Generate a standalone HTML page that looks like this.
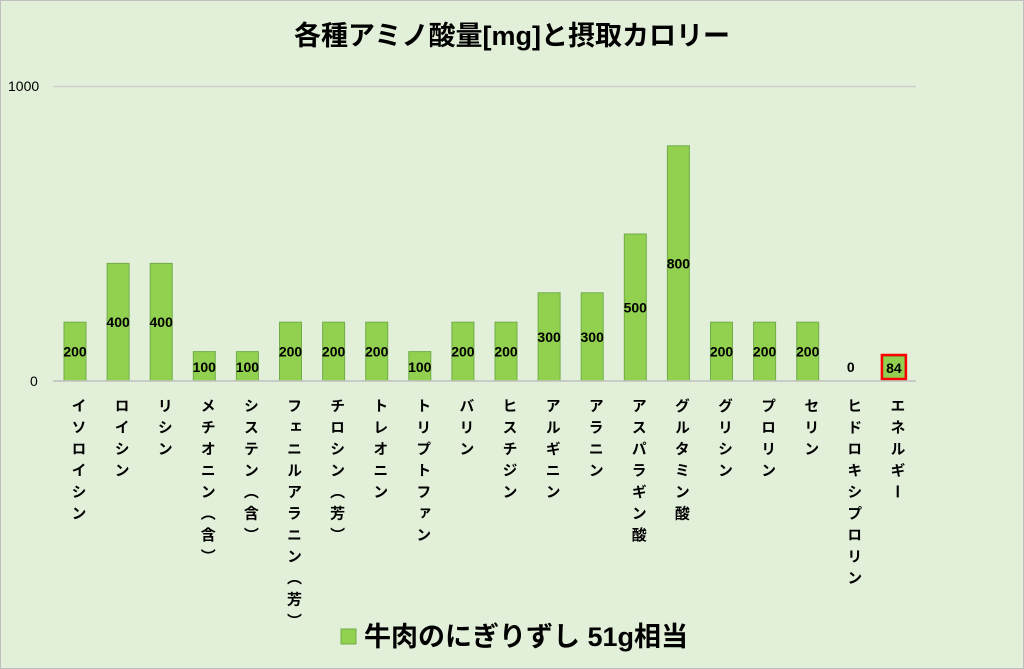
<!DOCTYPE html>
<html><head><meta charset="utf-8"><style>
body{margin:0;width:1024px;height:669px;overflow:hidden;background:#fff}
.c{position:absolute;left:0;top:0;width:1022px;height:667px;background:#e2efd9;border:1px solid #bfbfbf}
.v{position:absolute;top:398px;writing-mode:vertical-rl;font:bold 15px "Liberation Sans","Noto Sans CJK JP",sans-serif;color:#000;letter-spacing:6.5px;transform:translateX(-50%)}
</style></head><body><div class="c"></div>
<svg width="1024" height="669" style="position:absolute;left:0;top:0" font-family="Liberation Sans, Noto Sans CJK JP, sans-serif">
<text x="512" y="45" text-anchor="middle" font-size="27" font-weight="bold">各種アミノ酸量[mg]と摂取カロリー</text>
<line x1="53" y1="86.5" x2="916" y2="86.5" stroke="#d0d0d0" stroke-width="1.5"/>
<text x="8" y="91" font-size="14">1000</text>
<text x="30" y="386" font-size="14">0</text>
<g id="bars"></g>
<line x1="53" y1="381" x2="916" y2="381" stroke="#bfbfbf" stroke-width="1.5"/>
<rect x="341" y="629" width="15" height="15" fill="#92d050" stroke="#70ad47"/>
<text x="364" y="646" font-size="27" font-weight="bold">牛肉のにぎりずし 51g相当</text>
</svg>
<div id="lab"></div>
<script>
var v=[200,400,400,100,100,200,200,200,100,200,200,300,300,500,800,200,200,200,0,84];
var n=["イソロイシン","ロイシン","リシン","メチオニン（含）","システン（含）","フェニルアラニン（芳）","チロシン（芳）","トレオニン","トリプトファン","バリン","ヒスチジン","アルギニン","アラニン","アスパラギン酸","グルタミン酸","グリシン","プロリン","セリン","ヒドロキシプロリン","エネルギー"];
var g="",l="";
for(var i=0;i<20;i++){var cx=75+i*43.1,h=v[i]*0.294,y=381-h;
if(v[i]>0)g+='<rect x="'+(cx-11)+'" y="'+y+'" width="22" height="'+h+'" fill="#92d050" stroke="#70ad47" stroke-width="1"/>';
var ly=v[i]>=200?y+h/2+5:372;
if(i==19)g+='<rect x="'+(cx-12)+'" y="355" width="24" height="24" fill="none" stroke="#f00" stroke-width="2.5"/>';
g+='<text x="'+cx+'" y="'+(i==19?373:ly)+'" text-anchor="middle" font-size="14" font-weight="bold">'+v[i]+'</text>';
l+='<div class="v" style="left:'+(cx+3)+'px">'+n[i]+'</div>';}
document.getElementById("bars").innerHTML=g;document.getElementById("lab").innerHTML=l;
</script>
</body></html>
